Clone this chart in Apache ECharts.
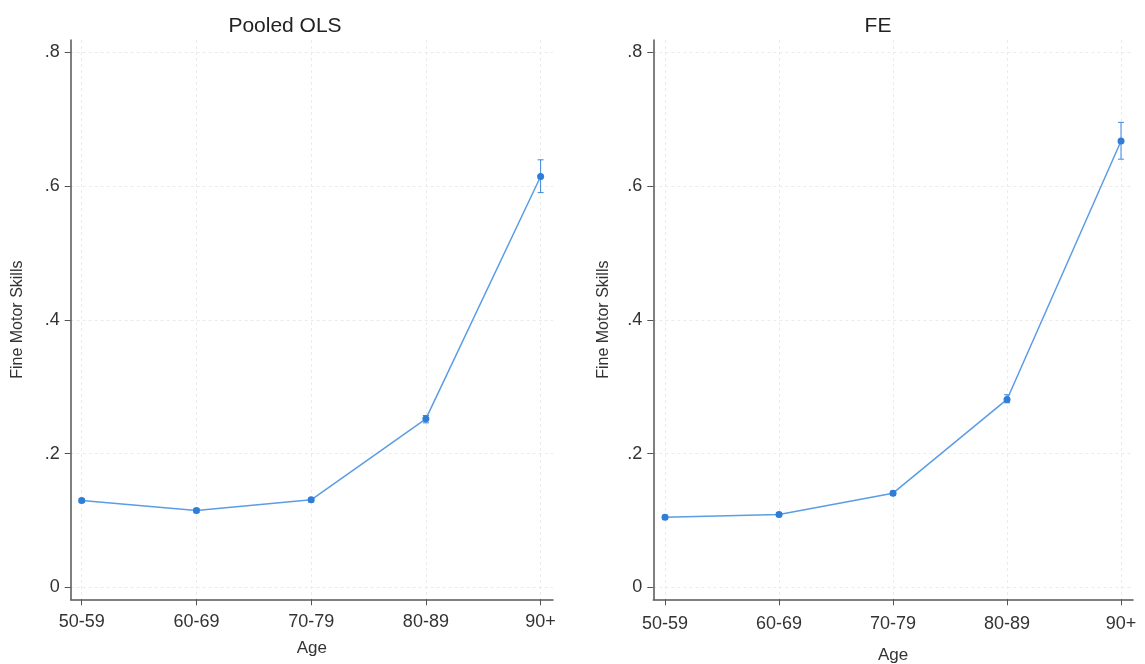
<!DOCTYPE html>
<html><head><meta charset="utf-8">
<script src="https://cdn.jsdelivr.net/npm/echarts@6/dist/echarts.min.js"></script>
<style>html,body{margin:0;padding:0;background:#fff}#c{width:1145px;height:664px}</style>
</head><body><div id="c"></div>
<script>
const ageGroups = ['50-59','60-69','70-79','80-89','90+'];
const yTicks = [0, 0.2, 0.4, 0.6, 0.8];
const olsEst = [0.130, 0.115, 0.131, 0.252, 0.614];
const olsLo  = [0.127, 0.112, 0.128, 0.246, 0.590];
const olsHi  = [0.133, 0.118, 0.134, 0.257, 0.639];
const feEst  = [0.105, 0.109, 0.141, 0.281, 0.667];
const feLo   = [0.102, 0.106, 0.138, 0.276, 0.640];
const feHi   = [0.108, 0.112, 0.144, 0.288, 0.695];

const FONT = 'Liberation Sans, Arial, sans-serif';
const chart = echarts.init(document.getElementById('c'));
const xPos = ageGroups.map((_, i) => i + 1);
const pts = est => est.map((v, i) => [xPos[i], v]);
const bars = (lo, hi) => lo.map((v, i) => [xPos[i], v, hi[i]]);

function yAxis(idx, gap){
  return {
    type:'value', gridIndex: idx, min:-0.0176, max:0.818,
    name:'Fine Motor Skills', nameLocation:'middle', nameGap:gap, nameMoveOverlap:false,
    nameTextStyle:{fontFamily:FONT, fontSize:16, color:'#333', verticalAlign:'middle'},
    axisLine:{show:true, onZero:false, lineStyle:{color:'#555', width:1.5}},
    axisTick:{show:true, length:6, lineStyle:{color:'#555'}, customValues: yTicks},
    axisLabel:{customValues: yTicks, fontFamily:FONT, fontSize:18, color:'#333', margin:11,
      formatter: v => v === 0 ? '0' : String(Math.round(v*10)/10).replace('0.', '.')},
    splitLine:{show:true, lineStyle:{color:'#ebebeb', type:[3,3], width:1}}
  };
}
function xAxis(idx, min, max, gap, margin){
  return {
    type:'value', gridIndex: idx, min:min, max:max,
    name:'Age', nameLocation:'middle', nameGap:gap, nameMoveOverlap:false,
    nameTextStyle:{fontFamily:FONT, fontSize:17, color:'#333', verticalAlign:'middle'},
    axisLine:{show:true, onZero:false, lineStyle:{color:'#555', width:1.5}},
    axisTick:{show:true, length:6, lineStyle:{color:'#555'}, customValues: xPos},
    axisLabel:{customValues: xPos, fontFamily:FONT, fontSize:18, color:'#333', margin:margin,
      formatter: v => ageGroups[Math.round(v) - 1]},
    splitLine:{show:true, lineStyle:{color:'#ebebeb', type:[3,3], width:1}}
  };
}
function errSeries(idx, lo, hi){
  return {
    type:'custom', xAxisIndex: idx, yAxisIndex: idx, z:3,
    data: bars(lo, hi),
    renderItem: (params, api) => {
      const a = api.coord([api.value(0), api.value(1)]);
      const b = api.coord([api.value(0), api.value(2)]);
      const w = 3;
      const st = {stroke:'#3b86dc', lineWidth:1};
      return {type:'group', children:[
        {type:'line', shape:{x1:a[0], y1:a[1], x2:b[0], y2:b[1]}, style:st},
        {type:'line', shape:{x1:a[0]-w, y1:a[1], x2:a[0]+w, y2:a[1]}, style:st},
        {type:'line', shape:{x1:b[0]-w, y1:b[1], x2:b[0]+w, y2:b[1]}, style:st}
      ]};
    }
  };
}
function lineSeries(idx, est){
  return {
    type:'line', xAxisIndex: idx, yAxisIndex: idx, z:4,
    data: pts(est), symbol:'circle', symbolSize:7,
    lineStyle:{color:'#5a9de6', width:1.5},
    itemStyle:{color:'#2f7dd6'}
  };
}
chart.setOption({
  animation:false,
  title:[
    {text:'Pooled OLS', left:280, top:11, textAlign:'center', textStyle:{fontFamily:FONT, fontSize:21, fontWeight:'normal', color:'#222'}},
    {text:'FE', left:873, top:11, textAlign:'center', textStyle:{fontFamily:FONT, fontSize:21, fontWeight:'normal', color:'#222'}}
  ],
  grid:[
    {left:70.7, right:592, top:40, bottom:64.7, outerBoundsMode:'none', containLabel:false},
    {left:653.3, right:12, top:40, bottom:64.7, outerBoundsMode:'none', containLabel:false}
  ],
  xAxis:[xAxis(0, 0.904, 5.108, 49, 14), xAxis(1, 0.897, 5.105, 56, 16)],
  yAxis:[yAxis(0, 53), yAxis(1, 50)],
  series:[
    errSeries(0, olsLo, olsHi), lineSeries(0, olsEst),
    errSeries(1, feLo, feHi), lineSeries(1, feEst)
  ]
});
</script></body></html>
